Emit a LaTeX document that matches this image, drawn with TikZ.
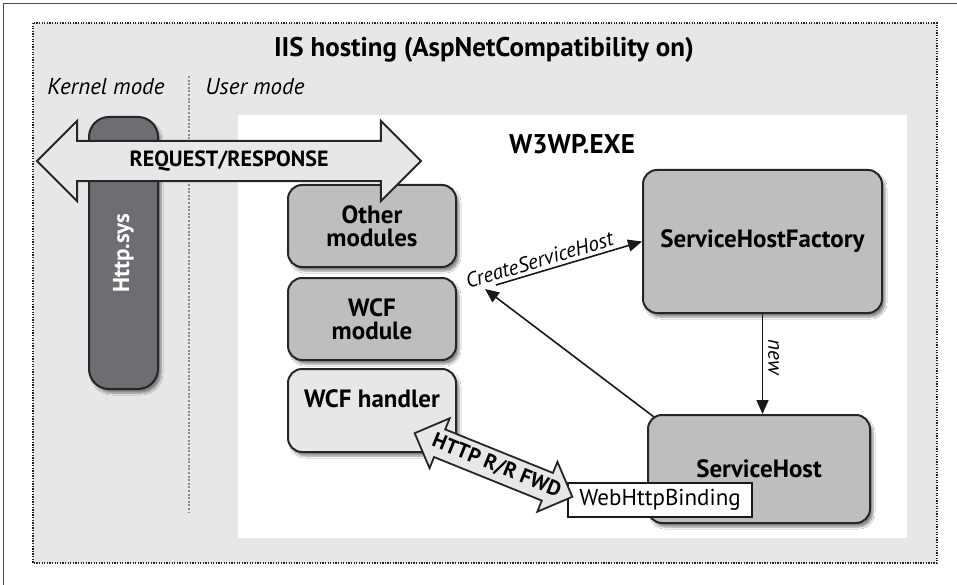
\documentclass[tikz,border=0pt]{standalone}
\usepackage{fontspec}
\setmainfont{PT Sans}
\usetikzlibrary{shapes.arrows,shadows.blur,arrows.meta}
\definecolor{bggray}{HTML}{E6E7E8}
\definecolor{boxgray}{HTML}{BCBEC0}
\definecolor{sysgray}{HTML}{6D6E71}
\begin{document}
\begin{tikzpicture}[x=1pt,y=-1pt]
    \tikzstyle{module}=[draw=black!85,line width=2pt,rounded corners=14pt,fill=boxgray,align=center,font=\fontsize{25}{23}\selectfont\bfseries,blur shadow={shadow xshift=3pt,shadow yshift=-4pt,shadow blur steps=6,shadow opacity=45}]
    \tikzstyle{fat}=[double arrow,draw=black!85,fill=bggray,double arrow head indent=0pt]
    \tikzstyle{call}=[-{Triangle[length=14pt,width=12pt]},line width=1.6pt,draw=black!90]
      \useasboundingbox (0,0) rectangle (957,585);
      \draw[draw=black!70,line width=0.8pt] (3,3) rectangle (962,590);
      \draw[fill=bggray,line width=1.5pt,dash pattern=on 1.3pt off 1.3pt,draw=black!85] (33,23) rectangle (937,563);
      \fill[white] (238,115) rectangle (907,538);

      \node (title) at (484,50) [font=\fontsize{27}{27}\selectfont\bfseries] {IIS hosting (AspNetCompatibility on)};
      \node (kernel) at (106,87) [font=\fontsize{23}{23}\selectfont\itshape] {Kernel mode};
      \node (user) at (255,87) [font=\fontsize{23}{23}\selectfont\itshape] {User mode};
      \coordinate (septop) at (189,76);
      \coordinate (sepbot) at (189,513);
      \draw[draw=black!45,line width=1.5pt,dash pattern=on 2pt off 1.6pt] (septop) -- (sepbot);
      \node (w3wp) at (572,144) [font=\fontsize{27}{27}\selectfont\bfseries] {W3WP.EXE};

      \node (sys) at (123.5,253) [module,fill=sysgray,rounded corners=20pt,minimum width=69pt,minimum height=272pt] {};
      \node at (sys.center) [rotate=90,text=white,font=\fontsize{23}{23}\selectfont\bfseries] {Http.sys};
      \node (other) at (372,226) [module,minimum width=168pt,minimum height=82pt] {Other\\modules};
      \node (wcfmod) at (372,319) [module,minimum width=168pt,minimum height=82pt] {WCF\\module};
      \node (handler) at (372,410.5) [module,fill=bggray,minimum width=168pt,minimum height=83pt,text depth=23pt] {WCF handler};
      \node (shf) at (762.5,241.5) [module,minimum width=239pt,minimum height=143pt] {ServiceHostFactory};
      \node (sh) at (759,469) [module,minimum width=222pt,minimum height=108pt] {ServiceHost};
      \node (whb) at (660,500) [draw=black!90,line width=1.5pt,fill=white,minimum width=184pt,minimum height=34pt,inner sep=0pt,font=\fontsize{23}{23}\selectfont] {WebHttpBinding};

      \node (req) at (229,161) [fat,line width=2pt,double arrow head extend=20pt,minimum height=384pt,inner ysep=9pt,font=\fontsize{22}{22}\selectfont\bfseries] {REQUEST/RESPONSE};
      \node (fwd) at (493.5,465) [fat,line width=1.8pt,rotate=-22,double arrow head extend=12pt,minimum height=170pt,inner xsep=0pt,inner ysep=14pt] {};
      \node at ([shift={(3,1)}]fwd.center) [rotate=-22,font=\fontsize{21}{21}\selectfont\bfseries] {HTTP R/R FWD};

      \coordinate (cs) at (496,285);
      \coordinate (back) at (485,289);
      \draw[call] (cs) -- node [pos=0.32,sloped,above,font=\fontsize{21}{21}\selectfont\itshape] {CreateServiceHost} (shf.west);
      \draw[call] ([shift={(7,3)}]sh.north west) -- (back);
      \draw[call] (shf.south) -- node [pos=0.43,xshift=11pt,rotate=-90,font=\fontsize{21}{21}\selectfont\itshape] {new} (shf.south |- sh.north);
  \end{tikzpicture}
\end{document}
